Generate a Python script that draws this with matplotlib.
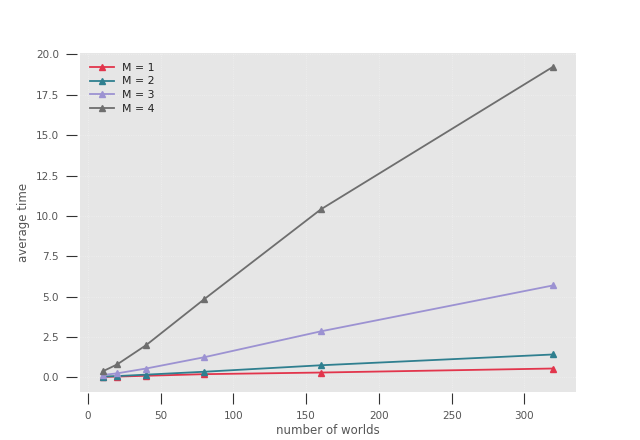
import matplotlib
matplotlib.use("Agg")
import matplotlib.pyplot as plt

worlds = [10, 20, 40, 80, 160, 320]
m1 = [0.03, 0.05, 0.10, 0.20, 0.30, 0.55]
m2 = [0.05, 0.08, 0.17, 0.35, 0.75, 1.42]
m3 = [0.15, 0.25, 0.55, 1.25, 2.85, 5.70]
m4 = [0.37, 0.80, 2.00, 4.85, 10.40, 19.25]
labels = ["M = 1", "M = 2", "M = 3", "M = 4"]
colors = ["#E2354C", "#2F7F8F", "#9C92D2", "#6E6E6E"]

fig, ax = plt.subplots(figsize=(6.4, 4.4), dpi=100)
ax.set_facecolor("#E6E6E6")
for ys, lab, c in zip([m1, m2, m3, m4], labels, colors):
    ax.plot(worlds, ys, color=c, marker="^", markersize=4.5, linewidth=1.3, label=lab)

for s in ax.spines.values():
    s.set_visible(False)
ax.spines["left"].set_position(("outward", 2))
ax.spines["bottom"].set_position(("outward", 1))
ax.grid(True, color="white", linestyle=":", linewidth=0.6, alpha=0.4)
ax.set_axisbelow(True)
ax.set_yticks([0, 2.5, 5, 7.5, 10, 12.5, 15, 17.5, 20])
ax.set_xticks([0, 50, 100, 150, 200, 250, 300])
ax.set_ylim(-0.88, 20.1)
ax.tick_params(direction="out", length=8, width=0.8, color="#333333",
               labelcolor="#555555", labelsize=7.5, pad=5)
ax.set_xlabel("number of worlds", fontsize=8.5, color="#555555", labelpad=2)
ax.set_ylabel("average time", fontsize=8.5, color="#555555", labelpad=4)
leg = ax.legend(loc="upper left", frameon=False, fontsize=7.8,
                handlelength=2.2, labelspacing=0.35)
for t in leg.get_texts():
    t.set_color("#222222")
fig.savefig("out.png", dpi=100)
